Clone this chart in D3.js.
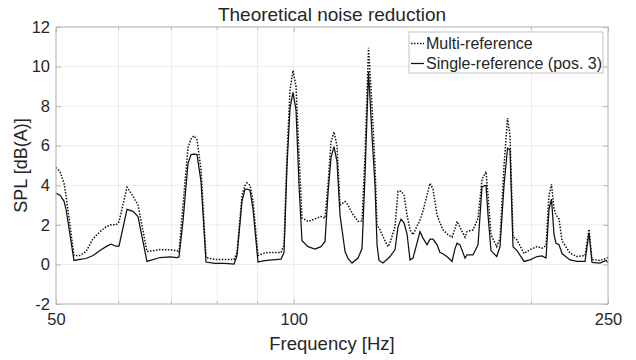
<!DOCTYPE html>
<meta charset="utf-8">
<script src="https://cdn.jsdelivr.net/npm/d3@7"></script>
<style>
  body { margin: 0; background: #fff; }
  text { font-family: "Liberation Sans", Arial, sans-serif; fill: #262626; }
</style>
<div id="chart"></div>
<script>
// frequency points [Hz] shared by both curves
const freq = [50.0, 50.59, 51.18, 51.48, 52.69, 53.62, 54.57, 55.70, 56.84, 57.85,
  58.70, 59.56, 60.08, 61.50, 62.59, 63.50, 65.19, 67.71, 69.72, 71.15,
  71.57, 72.41, 73.47, 74.12, 74.77, 75.43, 76.31, 77.43, 79.49, 81.84,
  84.02, 84.76, 86.00, 86.76, 87.26, 88.03, 88.80, 90.11, 91.43, 92.50,
  96.36, 97.21, 98.06, 98.92, 99.79, 100.67, 101.55, 102.44, 104.25, 106.40,
  108.28, 109.55, 110.51, 111.48, 112.46, 113.45, 114.45, 116.13, 117.15, 118.52,
  120.61, 122.03, 123.10, 124.37, 125.64, 126.74, 127.49, 128.23, 129.73, 131.64,
  132.41, 134.35, 135.53, 136.73, 137.93, 139.14, 140.36, 141.59, 144.51, 145.78,
  147.49, 148.79, 150.10, 151.86, 153.19, 154.54, 156.81, 158.65, 160.04, 160.98,
  162.39, 164.78, 165.74, 168.66, 171.14, 173.15, 175.18, 176.20, 177.75, 180.73,
  182.48, 184.62, 186.51, 187.87, 189.53, 191.75, 195.70, 199.16, 203.26, 206.25,
  208.67, 210.5, 212.04, 213.59, 214.83, 216.72, 218.63, 223.78, 228.40, 233.79,
  236.53, 238.61, 244.24, 248.55, 250.0];

// Multi-reference [dB(A)]
const multiRef = [4.9, 4.7, 4.1, 3.5, 0.45, 0.45, 0.65, 1.3, 1.65, 1.9,
  2.0, 2.0, 2.15, 3.9, 3.45, 3.0, 0.65, 0.75, 0.74, 0.7,
  0.6, 3.0, 5.9, 6.35, 6.5, 6.3, 4.8, 0.35, 0.25, 0.25,
  0.25, 0.6, 3.5, 4.0, 4.12, 4.0, 3.2, 0.45, 0.55, 0.6,
  0.6, 1.0, 5.5, 8.8, 9.8, 9.0, 5.5, 2.35, 2.17, 2.3,
  2.42, 2.34, 4.0, 6.2, 6.7, 6.0, 3.0, 3.18, 3.0, 2.6,
  2.17, 2.2, 5.5, 10.95, 8.0, 5.0, 1.95, 1.85, 1.4, 0.9,
  1.1, 1.9, 3.7, 3.7, 3.5, 2.5, 1.75, 1.5, 2.25, 2.7,
  3.5, 4.1, 3.8, 2.5, 2.09, 1.75, 1.5, 1.38, 1.8, 2.17,
  1.88, 1.38, 1.66, 1.75, 2.34, 4.3, 4.69, 3.5, 1.5, 0.9,
  1.33, 5.0, 7.39, 6.5, 1.4, 1.24, 0.55, 0.75, 0.9, 0.82,
  0.95, 3.5, 4.05, 2.8, 2.5, 2.3, 1.2, 0.57, 0.4, 0.45,
  1.78, 0.25, 0.2, 0.3, 0.35];

// Single-reference (pos. 3) [dB(A)]
const singleRef = [3.6, 3.5, 3.2, 2.8, 0.2, 0.25, 0.3, 0.45, 0.7, 0.9,
  1.02, 0.92, 0.92, 2.78, 2.68, 2.42, 0.15, 0.35, 0.38, 0.35,
  0.38, 2.2, 5.1, 5.55, 5.57, 5.55, 4.2, 0.12, 0.05, 0.05,
  0.02, 0.45, 3.2, 3.8, 3.8, 3.75, 2.8, 0.12, 0.18, 0.2,
  0.27, 0.6, 5.0, 7.9, 8.7, 7.8, 4.0, 1.2, 0.9, 0.78,
  0.9, 1.16, 3.6, 5.4, 5.95, 5.2, 2.5, 0.65, 0.3, 0.07,
  0.32, 0.8, 4.5, 9.75, 6.5, 4.0, 1.0, 0.2, 0.07, 0.3,
  0.4, 0.74, 1.9, 2.29, 2.1, 1.55, 0.23, 0.32, 1.66, 1.33,
  0.99, 1.28, 1.28, 0.99, 0.6, 0.54, 0.35, 0.15, 0.8, 1.07,
  0.99, 0.32, 0.48, 0.48, 0.99, 3.93, 4.0, 2.5, 0.7, 0.4,
  0.9, 4.0, 5.87, 5.79, 0.9, 0.7, 0.15, 0.23, 0.4, 0.43,
  0.32, 2.8, 3.3, 1.5, 1.07, 1.0, 0.55, 0.23, 0.15, 0.15,
  1.6, 0.1, 0.07, 0.2, 0.1];

const xTicks = [50, 100, 250];
const xMinor = [60, 70, 80, 90, 200];
const yTicks = [-2, 0, 2, 4, 6, 8, 10, 12];
const seriesNames = ["Multi-reference", "Single-reference (pos. 3)"];

const W = 636, H = 360;
const margin = {top: 27, right: 28, bottom: 56, left: 56},
    width = W - margin.left - margin.right,
    height = H - margin.top - margin.bottom;

const svg = d3.select("#chart").append("svg")
    .attr("width", W).attr("height", H);
const g = svg.append("g")
    .attr("transform", `translate(${margin.left},${margin.top})`);

const x = d3.scaleLog().domain([50, 250]).range([0, width]);
const y = d3.scaleLinear().domain([-2, 12]).range([height, 0]);

// grid
g.append("g").selectAll("line").data(xTicks.concat(xMinor)).join("line")
    .attr("x1", d => x(d)).attr("x2", d => x(d))
    .attr("y1", 0).attr("y2", height)
    .attr("stroke", "#ebebeb").attr("stroke-width", 1);
g.append("g").selectAll("line").data(yTicks).join("line")
    .attr("y1", d => y(d)).attr("y2", d => y(d))
    .attr("x1", 0).attr("x2", width)
    .attr("stroke", "#ebebeb").attr("stroke-width", 1);

// lines
const line = d3.line().x((d, i) => x(freq[i])).y(d => y(d));
g.append("path").datum(singleRef)
    .attr("d", line).attr("fill", "none")
    .attr("stroke", "#111").attr("stroke-width", 1.25);
g.append("path").datum(multiRef)
    .attr("d", line).attr("fill", "none")
    .attr("stroke", "#111").attr("stroke-width", 1.5)
    .attr("stroke-dasharray", "1.5,1.5");

// axes (inward ticks, light box)
const axisColor = "#b8b8b8";
const ax = g.append("g").attr("transform", `translate(0,${height})`)
    .call(d3.axisBottom(x).tickValues(xTicks).tickFormat(d3.format("d"))
      .tickSizeInner(-5).tickSizeOuter(0).tickPadding(9));
const ayL = g.append("g")
    .call(d3.axisLeft(y).tickValues(yTicks).tickFormat(d => String(d))
      .tickSizeInner(-5).tickSizeOuter(0).tickPadding(6));
const ayR = g.append("g").attr("transform", `translate(${width},0)`)
    .call(d3.axisRight(y).tickValues(yTicks).tickSizeInner(-5).tickSizeOuter(0).tickFormat(""));
const axT = g.append("g")
    .call(d3.axisTop(x).tickValues(xTicks).tickSizeInner(-5).tickSizeOuter(0).tickFormat(""));
// minor x ticks
[[height, -3], [0, 3]].forEach(([yy, len]) => {
  g.append("g").selectAll("line").data(xMinor).join("line")
    .attr("x1", d => x(d)).attr("x2", d => x(d))
    .attr("y1", yy).attr("y2", yy + len)
    .attr("stroke", axisColor);
});
[ax, ayL, ayR, axT].forEach(a => {
  a.selectAll(".domain").remove();
  a.selectAll("line").attr("stroke", axisColor);
  a.selectAll("text").style("font-size", "16.5px").attr("fill", "#262626");
});
g.append("rect").attr("width", width).attr("height", height)
    .attr("fill", "none").attr("stroke", axisColor).attr("stroke-width", 1);

// labels
svg.append("text").attr("x", margin.left + width / 2).attr("y", 20.5)
    .attr("text-anchor", "middle").style("font-size", "19px")
    .text("Theoretical noise reduction");
svg.append("text").attr("x", margin.left + width / 2).attr("y", 350)
    .attr("text-anchor", "middle").style("font-size", "18.5px")
    .text("Frequency [Hz]");
svg.append("text")
    .attr("transform", `translate(27,${margin.top + height / 2}) rotate(-90)`)
    .attr("text-anchor", "middle").style("font-size", "18px")
    .text("SPL [dB(A)]");

// legend
const lg = svg.append("g").attr("transform", "translate(409,32)");
lg.append("rect").attr("width", 194).attr("height", 41)
    .attr("fill", "#fff").attr("stroke", "#c4c4c4");
seriesNames.forEach((name, i) => {
  const cy = 11.5 + i * 20;
  lg.append("line").attr("x1", 2).attr("x2", 15).attr("y1", cy).attr("y2", cy)
    .attr("stroke", "#111").attr("stroke-width", i === 0 ? 1.5 : 1.25)
    .attr("stroke-dasharray", i === 0 ? "1.5,1.5" : null);
  lg.append("text").attr("x", 17).attr("y", cy).attr("dy", "0.35em")
    .style("font-size", "16px").text(name);
});
</script>
